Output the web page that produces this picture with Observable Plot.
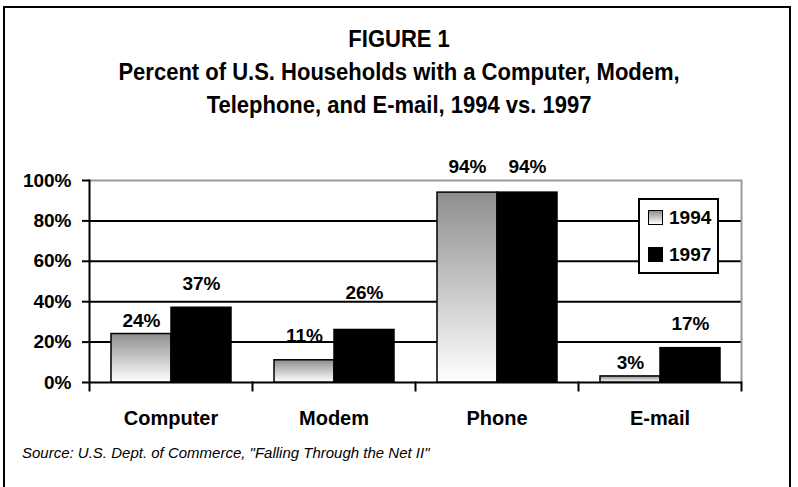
<!DOCTYPE html>
<html>
<head>
<meta charset="utf-8">
<script src="https://cdn.jsdelivr.net/npm/d3@7"></script>
<script src="https://cdn.jsdelivr.net/npm/@observablehq/plot@0.6"></script>
<style>
  html, body { margin: 0; padding: 0; background: #fff; }
  #page { position: relative; width: 798px; height: 487px; overflow: hidden; font-family: "Liberation Sans", Arial, sans-serif; color: #000; }
  #border { position: absolute; left: 3px; top: 6px; width: 788px; height: 520px; border: 2px solid #000; box-sizing: border-box; }
  #title { position: absolute; left: 0; top: 22px; width: 798px; text-align: center; font-weight: bold; font-size: 24px; line-height: 33px; transform: scaleX(0.917); transform-origin: 400px 0; }
  #chart { position: absolute; left: 0; top: 150px; }
  #legend { position: absolute; left: 638px; top: 198px; width: 81px; height: 76px; border: 2px solid #000; background: #fff; box-sizing: border-box; }
  .item { position: absolute; left: 0; font-weight: bold; font-size: 19px; }
  .sw { position: absolute; left: 8px; width: 15px; height: 15px; border: 1.5px solid #000; box-sizing: border-box; }
  .lab { position: absolute; left: 29px; top: -3px; line-height: 22px; }
  #source { position: absolute; left: 22px; top: 444px; font-style: italic; font-size: 15px; line-height: 18px; }
</style>
</head>
<body>
<div id="page">
  <div id="border"></div>
  <div id="title"></div>
  <div id="chart"></div>
  <div id="legend"></div>
  <div id="source"></div>
</div>
<script>
const titleLines = ["FIGURE 1", "Percent of U.S. Households with a Computer, Modem,", "Telephone, and E-mail, 1994 vs. 1997"];
const sourceText = "Source: U.S. Dept. of Commerce, \"Falling Through the Net II\"";
const categories = ["Computer", "Modem", "Phone", "E-mail"];
const years = ["1994", "1997"];
const values1994 = [24, 11, 94, 3];
const values1997 = [37, 26, 94, 17];
const yTicks = [0, 20, 40, 60, 80, 100];

const rows = categories.flatMap((c, i) => [
  {cat: c, year: "1994", value: values1994[i]},
  {cat: c, year: "1997", value: values1997[i]}
]);

document.getElementById("title").innerHTML = titleLines.map(t => `<div>${t}</div>`).join("");
document.getElementById("source").textContent = sourceText;

// legend
const legendFills = {"1994": "linear-gradient(#8e8e8e, #ffffff)", "1997": "#000"};
const legend = document.getElementById("legend");
years.forEach((y, i) => {
  const it = document.createElement("div");
  it.className = "item";
  it.style.top = (10 + i * 37) + "px";
  it.innerHTML = `<div class="sw" style="background:${legendFills[y]}"></div><div class="lab">${y}</div>`;
  legend.appendChild(it);
});

// label lift (baseline above bar top), style only
const lift = {"Computer 1994": 7, "E-mail 1994": 7, "Phone 1994": 20, "Phone 1997": 20, "Modem 1997": 31};
const liftOf = d => lift[d.cat + " " + d.year] ?? 18;
const liftGroups = [...new Set(rows.map(liftOf))];

const plot = Plot.plot({
  width: 798,
  height: 280,
  marginTop: 30,
  marginBottom: 48,
  marginLeft: 87,
  marginRight: 56,
  style: {fontFamily: "'Liberation Sans', Arial, sans-serif", fontSize: "19px", fontWeight: "bold", background: "transparent", overflow: "visible", color: "#000"},
  fx: {domain: categories, padding: 0, label: null},
  x: {domain: years, paddingInner: 0, paddingOuter: 0.342, axis: null},
  y: {domain: [0, 100], axis: null},
  marks: [
    Plot.gridY([20, 40, 60, 80], {stroke: "#000", strokeOpacity: 1, strokeWidth: 2}),
    Plot.ruleY([100], {stroke: "#9a9a9a", strokeWidth: 2}),
    Plot.frame({anchor: "right", facetAnchor: "right", stroke: "#9a9a9a", strokeWidth: 2}),
    Plot.frame({anchor: "right", insetTop: 202, insetBottom: -8, stroke: "#000", strokeWidth: 2}),
    Plot.frame({anchor: "left", facetAnchor: "left", insetBottom: -8, stroke: "#000", strokeWidth: 2}),
    Plot.ruleY([0], {stroke: "#000", strokeWidth: 2}),
    Plot.barY(rows.filter(d => d.year === "1994"), {fx: "cat", x: "year", y: "value", fill: "url(#g94)", stroke: "#000", strokeWidth: 1.5}),
    Plot.barY(rows.filter(d => d.year === "1997"), {fx: "cat", x: "year", y: "value", fill: "#000", stroke: "#000", strokeWidth: 1.5}),
    Plot.axisY({ticks: yTicks, tickFormat: d => d + "%", tickSize: 7, tickPadding: 11, strokeWidth: 2, fontSize: 19, label: null}),
    Plot.axisFx({anchor: "bottom", tickSize: 0, tickPadding: 28, fontSize: 20, label: null}),
    ...liftGroups.map(g => Plot.text(rows.filter(d => liftOf(d) === g), {
      fx: "cat", x: "year", y: "value", text: d => d.value + "%",
      lineAnchor: "bottom", dy: -g, fontSize: 19, fontWeight: "bold", fill: "#000"
    }))
  ]
});

const defs = d3.select(plot).insert("defs", ":first-child");
const grad = defs.append("linearGradient").attr("id", "g94").attr("x1", 0).attr("y1", 0).attr("x2", 0).attr("y2", 1);
grad.append("stop").attr("offset", "0%").attr("stop-color", "#8e8e8e");
grad.append("stop").attr("offset", "100%").attr("stop-color", "#ffffff");

document.getElementById("chart").appendChild(plot);
</script>
</body>
</html>
